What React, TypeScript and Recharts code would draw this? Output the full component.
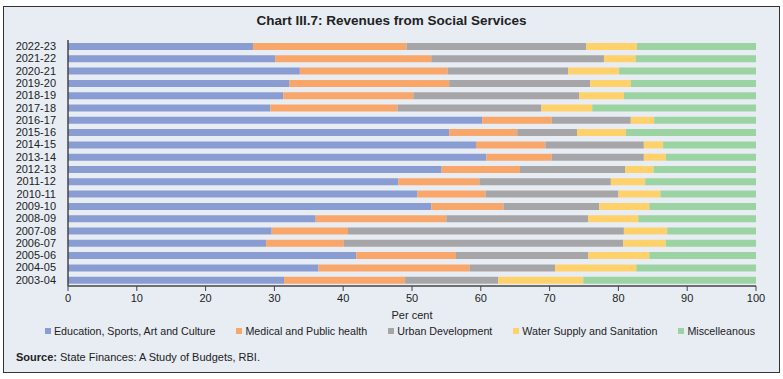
import { BarChart, Bar, XAxis, YAxis } from 'recharts'

const years = [
  '2022-23', '2021-22', '2020-21', '2019-20', '2018-19', '2017-18', '2016-17',
  '2015-16', '2014-15', '2013-14', '2012-13', '2011-12', '2010-11', '2009-10',
  '2008-09', '2007-08', '2006-07', '2005-06', '2004-05', '2003-04',
]

// shares in per cent, same order as years
const education = [26.9, 30.1, 33.7, 32.2, 31.3, 29.4, 60.2, 55.4, 59.3, 60.8, 54.3, 48.0, 50.8, 52.8, 36.0, 29.6, 28.8, 41.9, 36.4, 31.4]
const medical = [22.3, 22.7, 21.5, 23.2, 18.9, 18.5, 10.1, 9.9, 10.1, 9.5, 11.4, 11.8, 9.9, 10.5, 19.0, 11.1, 11.3, 14.5, 22.0, 17.6]
const urban = [26.1, 25.1, 17.5, 20.5, 24.1, 20.9, 11.5, 8.7, 14.3, 13.4, 15.3, 19.1, 19.3, 13.9, 20.6, 40.1, 40.6, 19.2, 12.4, 13.5]
const water = [7.4, 4.6, 7.4, 5.9, 6.5, 7.4, 3.4, 7.1, 2.8, 3.2, 4.1, 5.0, 6.1, 7.3, 7.3, 6.3, 6.2, 8.9, 11.8, 12.4]
const misc = [17.3, 17.5, 19.9, 18.2, 19.2, 23.8, 14.8, 18.9, 13.5, 13.1, 14.9, 16.1, 13.9, 15.5, 17.1, 12.9, 13.1, 15.5, 17.4, 25.1]

const xTicks = [0, 10, 20, 30, 40, 50, 60, 70, 80, 90, 100]

const series = [
  { key: 'education', name: 'Education, Sports, Art and Culture', color: '#8a9dd3' },
  { key: 'medical', name: 'Medical and Public health', color: '#f9a66b' },
  { key: 'urban', name: 'Urban Development', color: '#a6a6a8' },
  { key: 'water', name: 'Water Supply and Sanitation', color: '#fed16b' },
  { key: 'misc', name: 'Miscelleanous', color: '#9cd3a2' },
]

const data = years.map((year, i) => ({
  year,
  education: education[i],
  medical: medical[i],
  urban: urban[i],
  water: water[i],
  misc: misc[i],
}))

const font = '"Liberation Sans", Arial, sans-serif'

export default function App() {
  return (
    <div style={{ position: 'absolute', left: 0, top: 0, width: 783, height: 379, background: '#fff' }}>
      <div
        style={{
          position: 'absolute', left: 3, top: 6, width: 775, height: 365,
          border: '1px solid #333', background: '#e8edf4',
        }}
      />
      <div
        style={{
          position: 'absolute', left: 0, top: 13, width: 783, textAlign: 'center',
          fontFamily: font, fontWeight: 700, fontSize: 13.5, color: '#222',
        }}
      >
        Chart III.7: Revenues from Social Services
      </div>
      <div style={{ position: 'absolute', left: 0, top: 0 }}>
        <BarChart
          width={783}
          height={379}
          data={data}
          layout="vertical"
          barSize={7}
          margin={{ top: 40, right: 27, left: 0, bottom: 57 }}
        >
          <XAxis
            type="number"
            domain={[0, 100]}
            ticks={xTicks}
            height={36}
            tick={{ fontSize: 11, fill: '#222', fontFamily: font }}
            tickSize={5}
            tickMargin={3}
            axisLine={{ stroke: '#444', strokeWidth: 1.5 }}
            tickLine={{ stroke: '#444' }}
            label={{ value: 'Per cent', position: 'insideBottom', offset: 3, fontSize: 11, fill: '#222', fontFamily: font }}
          />
          <YAxis
            type="category"
            dataKey="year"
            width={68}
            interval={0}
            tick={{ fontSize: 11, fill: '#222', fontFamily: font }}
            tickLine={false}
            tickMargin={6}
            axisLine={{ stroke: '#444', strokeWidth: 1.5 }}
          />
          {series.map((s) => (
            <Bar key={s.key} dataKey={s.key} name={s.name} stackId="a" fill={s.color} isAnimationActive={false} />
          ))}
        </BarChart>
      </div>
      <div
        style={{
          position: 'absolute', left: 17, top: 325, width: 766, display: 'flex', justifyContent: 'center',
          gap: 21, fontFamily: font, fontSize: 10.7, color: '#222',
        }}
      >
        {series.map((s) => (
          <div key={s.key} style={{ display: 'flex', alignItems: 'center' }}>
            <span style={{ width: 6, height: 6, background: s.color, marginRight: 3, display: 'inline-block' }} />
            {s.name}
          </div>
        ))}
      </div>
      <div
        style={{
          position: 'absolute', left: 16, top: 351, fontFamily: font, fontSize: 11, color: '#222',
        }}
      >
        <b>Source:</b> State Finances: A Study of Budgets, RBI.
      </div>
    </div>
  )
}
